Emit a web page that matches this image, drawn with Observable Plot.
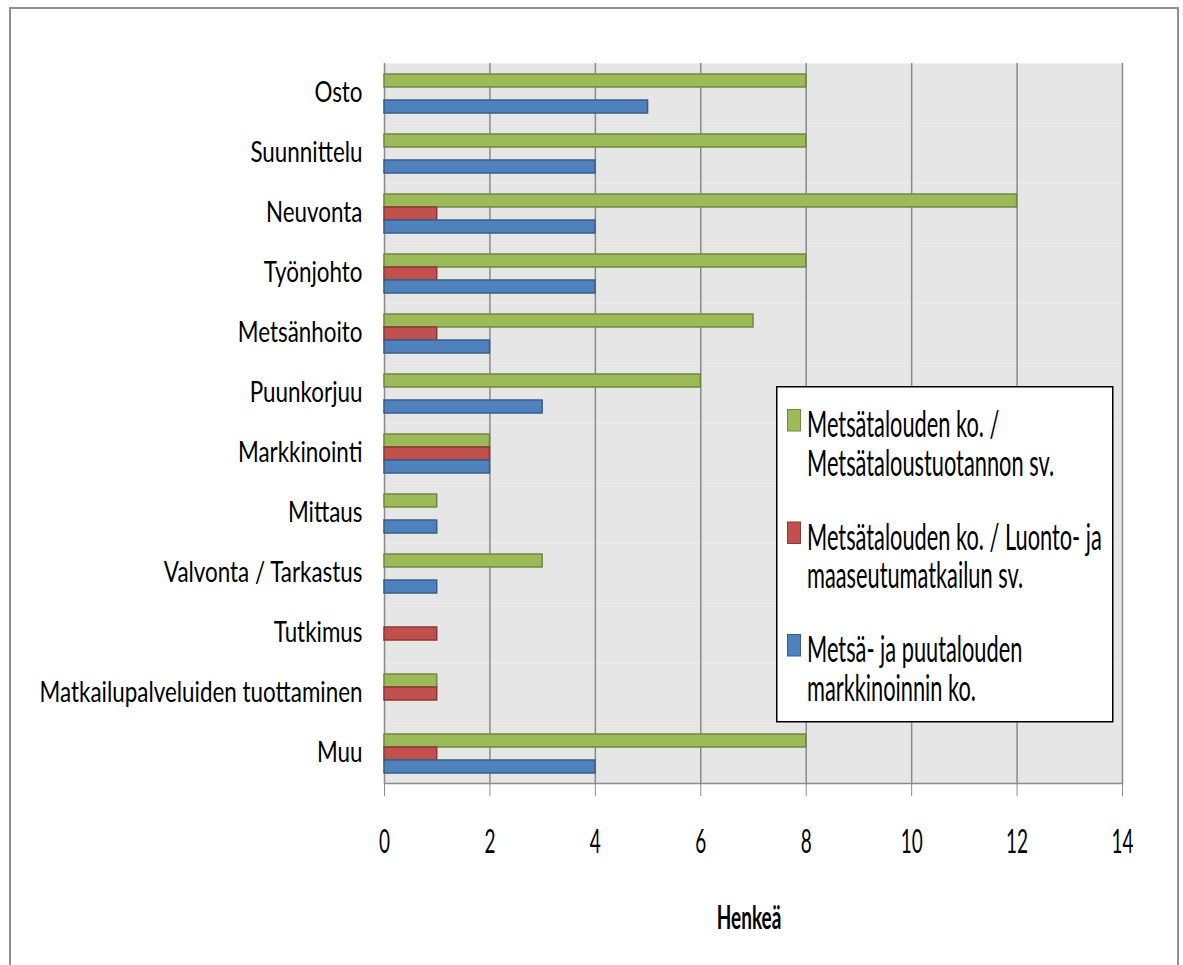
<!DOCTYPE html>
<html>
<head>
<meta charset="utf-8">
<script src="https://cdn.jsdelivr.net/npm/d3@7"></script>
<script src="https://cdn.jsdelivr.net/npm/@observablehq/plot@0.6"></script>
<style>
  html, body { margin: 0; padding: 0; background: #fff; overflow: hidden; width: 1183px; height: 965px; }
  #wrap { position: relative; width: 1183px; height: 965px; }
  #border { position: absolute; left: 9px; top: 7px; width: 1170px; height: 1000px; border: 2.5px solid #8f8f8f; box-sizing: border-box; pointer-events: none; }
  #chart { position: absolute; left: 0; top: 0; }
  #overlay { position: absolute; left: 0; top: 0; pointer-events: none; }
</style>
</head>
<body>
<div id="wrap">
  <div id="chart"></div>
  <svg id="overlay" width="1183" height="965"></svg>
  <div id="border"></div>
</div>
<script>
const categories = ["Osto", "Suunnittelu", "Neuvonta", "Työnjohto", "Metsänhoito", "Puunkorjuu",
  "Markkinointi", "Mittaus", "Valvonta / Tarkastus", "Tutkimus", "Matkailupalveluiden tuottaminen", "Muu"];
const seriesNames = [
  "Metsätalouden ko. / Metsätaloustuotannon sv.",
  "Metsätalouden ko. / Luonto- ja maaseutumatkailun sv.",
  "Metsä- ja puutalouden markkinoinnin ko."
];
const legendLines = [
  ["Metsätalouden ko. /", "Metsätaloustuotannon sv."],
  ["Metsätalouden ko. / Luonto- ja", "maaseutumatkailun sv."],
  ["Metsä- ja puutalouden", "markkinoinnin ko."]
];
const greenValues = [8, 8, 12, 8, 7, 6, 2, 1, 3, 0, 1, 8];
const redValues   = [0, 0, 1, 1, 1, 0, 2, 0, 0, 1, 1, 1];
const blueValues  = [5, 4, 4, 4, 2, 3, 2, 1, 1, 0, 0, 4];
const fills   = ["#9bbb59", "#c0504d", "#4f81bd"];
const strokes = ["#71893f", "#8c3836", "#385d8a"];
const xTicks = [0, 2, 4, 6, 8, 10, 12, 14];
const xTitle = "Henkeä";

const seriesValues = [greenValues, redValues, blueValues];
const data = [];
categories.forEach((c, i) => {
  seriesNames.forEach((s, j) => {
    data.push({category: c, series: s, value: seriesValues[j][i]});
  });
});
const bars = data.filter(d => d.value > 0);

const font = 'Lato, "DejaVu Sans Condensed", sans-serif';

const chart = Plot.plot({
  width: 1183,
  height: 965,
  marginLeft: 384,
  marginRight: 61,
  marginTop: 59,
  marginBottom: 179,
  style: {fontFamily: font, background: "transparent", overflow: "visible"},
  x: {domain: [0, 14], axis: null},
  fy: {domain: categories, padding: 0, label: null, axis: null},
  y: {domain: seriesNames, paddingInner: 0, paddingOuter: 0.76, axis: null},
  color: {domain: seriesNames, range: fills},
  marks: [
    Plot.frame({fill: "#e6e6e6", stroke: null}),
    Plot.ruleX(xTicks, {stroke: "#8a8a8a", strokeWidth: 1.5}),
    Plot.barX(bars, {
      x: "value", y: "series", fy: "category",
      fill: "series",
      stroke: d => strokes[seriesNames.indexOf(d.series)],
      strokeWidth: 1.5
    }),
    Plot.frame({anchor: "bottom", facetAnchor: "bottom", stroke: "#8a8a8a", strokeWidth: 1.5}),
    Plot.axisX({ticks: xTicks, tickFormat: d => String(d), tickSize: 13, tickPadding: 34,
      stroke: "#8a8a8a", fill: "#000", fontSize: 19, label: null, facetAnchor: "bottom"}),
    Plot.axisFy({anchor: "left", tickSize: 0, tickPadding: 22, dy: -1, fontSize: 22.4, fill: "#000", label: null})
  ]
});
document.getElementById("chart").appendChild(chart);

// vertical stretch of the tick label glyphs (the reference is drawn with tall, narrow lettering)
function stretchTexts(selector, k) {
  chart.querySelectorAll(selector).forEach(t => {
    const tr = t.getAttribute("transform") || "";
    t.setAttribute("transform", tr + ` scale(1,${k})`);
  });
}
stretchTexts('g[aria-label="fy-axis tick label"] text', 1.3);
stretchTexts('g[aria-label="x-axis tick label"] text', 1.7);

// overlay: axis title and legend
const ov = d3.select("#overlay");
ov.append("text")
  .attr("transform", "translate(749,929) scale(1,1.75)")
  .attr("text-anchor", "middle")
  .attr("font-family", font).attr("font-weight", "bold").attr("font-size", 19)
  .text(xTitle);

const lg = ov.append("g").attr("transform", "translate(776,386)");
lg.append("rect").attr("x", 0.75).attr("y", 0.75).attr("width", 336).attr("height", 335)
  .attr("fill", "#fff").attr("stroke", "#000").attr("stroke-width", 1.5);
const entryStep = 112.5, lineStep = 38.5;
legendLines.forEach((lines, j) => {
  const y0 = 51 + j * entryStep;
  lg.append("rect").attr("x", 11.5).attr("y", y0 - 27.5).attr("width", 13).attr("height", 21.5)
    .attr("fill", fills[j]).attr("stroke", strokes[j]).attr("stroke-width", 1);
  lines.forEach((line, k) => {
    lg.append("text")
      .attr("transform", `translate(31,${y0 + k * lineStep}) scale(1,1.64)`)
      .attr("font-family", font).attr("font-size", 21.8)
      .text(line);
  });
});
</script>
</body>
</html>
